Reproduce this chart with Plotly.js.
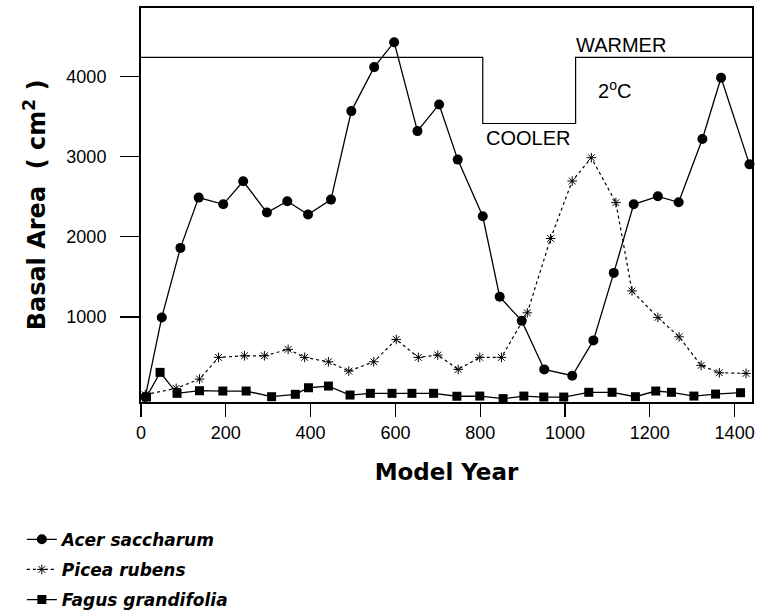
<!DOCTYPE html>
<html>
<head>
<meta charset="utf-8">
<script src="https://cdn.plot.ly/plotly-3.0.1.min.js"></script>
<style>html,body{margin:0;padding:0;background:#fff;}#chart{width:766px;height:613px;}</style>
</head>
<body>
<div id="chart"></div>
<script>
// Acer saccharum (filled circles, solid line)
const acerYear = [10, 49, 93, 136, 194, 241, 297, 345, 394, 448, 496, 550, 597, 652, 703, 747, 806, 846, 898, 951, 1017, 1067, 1115, 1162, 1219, 1268, 1324, 1368, 1435];
const acerArea = [0, 994, 1862, 2490, 2406, 2693, 2303, 2444, 2278, 2465, 3570, 4119, 4430, 3320, 3653, 2964, 2257, 1251, 951, 345, 266, 707, 1550, 2406, 2506, 2431, 3221, 3986, 2905];

// Picea rubens (asterisks, dotted line)
const piceaYear = [10, 83, 138, 183, 244, 291, 347, 386, 442, 490, 549, 602, 654, 700, 748, 799, 850, 911, 966, 1017, 1062, 1120, 1158, 1219, 1269, 1321, 1364, 1427];
const piceaArea = [30, 108, 224, 495, 515, 515, 595, 495, 440, 324, 440, 719, 495, 524, 345, 495, 495, 1051, 1979, 2697, 2988, 2427, 1325, 994, 752, 395, 303, 295];

// Fagus grandifolia (filled squares, solid line)
const fagusYear = [13, 45, 85, 138, 193, 248, 308, 364, 395, 442, 493, 541, 592, 639, 690, 745, 799, 854, 903, 950, 997, 1056, 1111, 1166, 1214, 1251, 1304, 1355, 1414];
const fagusArea = [0, 308, 46, 79, 75, 75, 4, 34, 116, 137, 25, 46, 46, 46, 46, 10, 12, -20, 12, 0, 0, 59, 59, 4, 75, 59, 12, 37, 54];

// Temperature scenario step line (warmer / cooler)
const tempYear = [0, 806, 1025, 1441];
const tempLevel = [4240, 3415, 4240, 4240];

const xTicks = [0, 200, 400, 600, 800, 1000, 1200, 1400];
const yTicks = [1000, 2000, 3000, 4000];

const traces = [
  {
    x: acerYear, y: acerArea, name: 'Acer saccharum', legendgroup: 'a',
    type: 'scatter', mode: 'lines+markers', cliponaxis: false,
    line: {color: '#000', width: 1.3},
    marker: {symbol: 'circle', size: 10, color: '#000'}
  },
  {
    x: piceaYear, y: piceaArea, name: 'Picea rubens', legendgroup: 'b',
    type: 'scatter', mode: 'lines+markers', cliponaxis: false,
    line: {color: '#000', width: 1.2, dash: 'dot'},
    marker: {symbol: 'asterisk-open', size: 8, color: '#000', line: {color: '#000', width: 1}}
  },
  {
    x: fagusYear, y: fagusArea, name: 'Fagus grandifolia', legendgroup: 'c',
    type: 'scatter', mode: 'lines+markers', cliponaxis: false,
    line: {color: '#000', width: 1.3},
    marker: {symbol: 'square', size: 9, color: '#000'}
  },
  {
    x: tempYear, y: tempLevel, name: 'temperature', showlegend: false,
    type: 'scatter', mode: 'lines', hoverinfo: 'skip',
    line: {color: '#000', width: 1.2, shape: 'hv'}
  }
];

const layout = {
  width: 766, height: 613,
  margin: {l: 141, r: 14, t: 8, b: 211, autoexpand: false},
  paper_bgcolor: '#fff', plot_bgcolor: '#fff',
  font: {family: 'Liberation Sans, Arial, sans-serif', color: '#000'},
  xaxis: {
    range: [0, 1441], tickvals: xTicks, ticktext: xTicks.map(String),
    ticks: 'outside', ticklen: 13, tickwidth: 1.2, tickcolor: '#000',
    showline: true, linewidth: 2, linecolor: '#000', mirror: true,
    showgrid: false, zeroline: false,
    tickfont: {family: 'Liberation Sans, Arial, sans-serif', size: 18, color: '#000'},
    title: {text: 'Model Year', font: {family: 'DejaVu Sans, sans-serif', size: 23, weight: 'bold', color: '#000'}, standoff: 22}
  },
  yaxis: {
    range: [-62, 4857], tickvals: yTicks, ticktext: yTicks.map(String),
    ticks: 'outside', ticklen: 19, tickwidth: 1.2, tickcolor: '#000',
    ticklabelstandoff: 10,
    showline: true, linewidth: 2, linecolor: '#000', mirror: true,
    showgrid: false, zeroline: false,
    tickfont: {family: 'Liberation Sans, Arial, sans-serif', size: 18, color: '#000'},
    title: {text: 'Basal Area  ( cm<sup>2</sup> )', standoff: 14, font: {family: 'DejaVu Sans, sans-serif', size: 24, weight: 'bold', color: '#000'}}
  },
  showlegend: true,
  legend: {
    x: -0.195, y: -0.304, xanchor: 'left', yanchor: 'top',
    bgcolor: 'rgba(0,0,0,0)', tracegroupgap: 5,
    font: {family: 'DejaVu Sans, sans-serif', size: 17, weight: 'bold', style: 'italic', color: '#000'}
  },
  annotations: [
    {x: 1133, y: 4395, xref: 'x', yref: 'y', text: 'WARMER', showarrow: false,
     font: {family: 'Liberation Sans, Arial, sans-serif', size: 20, color: '#000'}},
    {x: 912, y: 3236, xref: 'x', yref: 'y', text: 'COOLER', showarrow: false,
     font: {family: 'Liberation Sans, Arial, sans-serif', size: 20, color: '#000'}},
    {x: 1116, y: 3840, xref: 'x', yref: 'y', text: '2<sup>o</sup>C', showarrow: false,
     font: {family: 'Liberation Sans, Arial, sans-serif', size: 20, color: '#000'}}
  ]
};

Plotly.newPlot('chart', traces, layout, {staticPlot: true, displayModeBar: false});
</script>
</body>
</html>
